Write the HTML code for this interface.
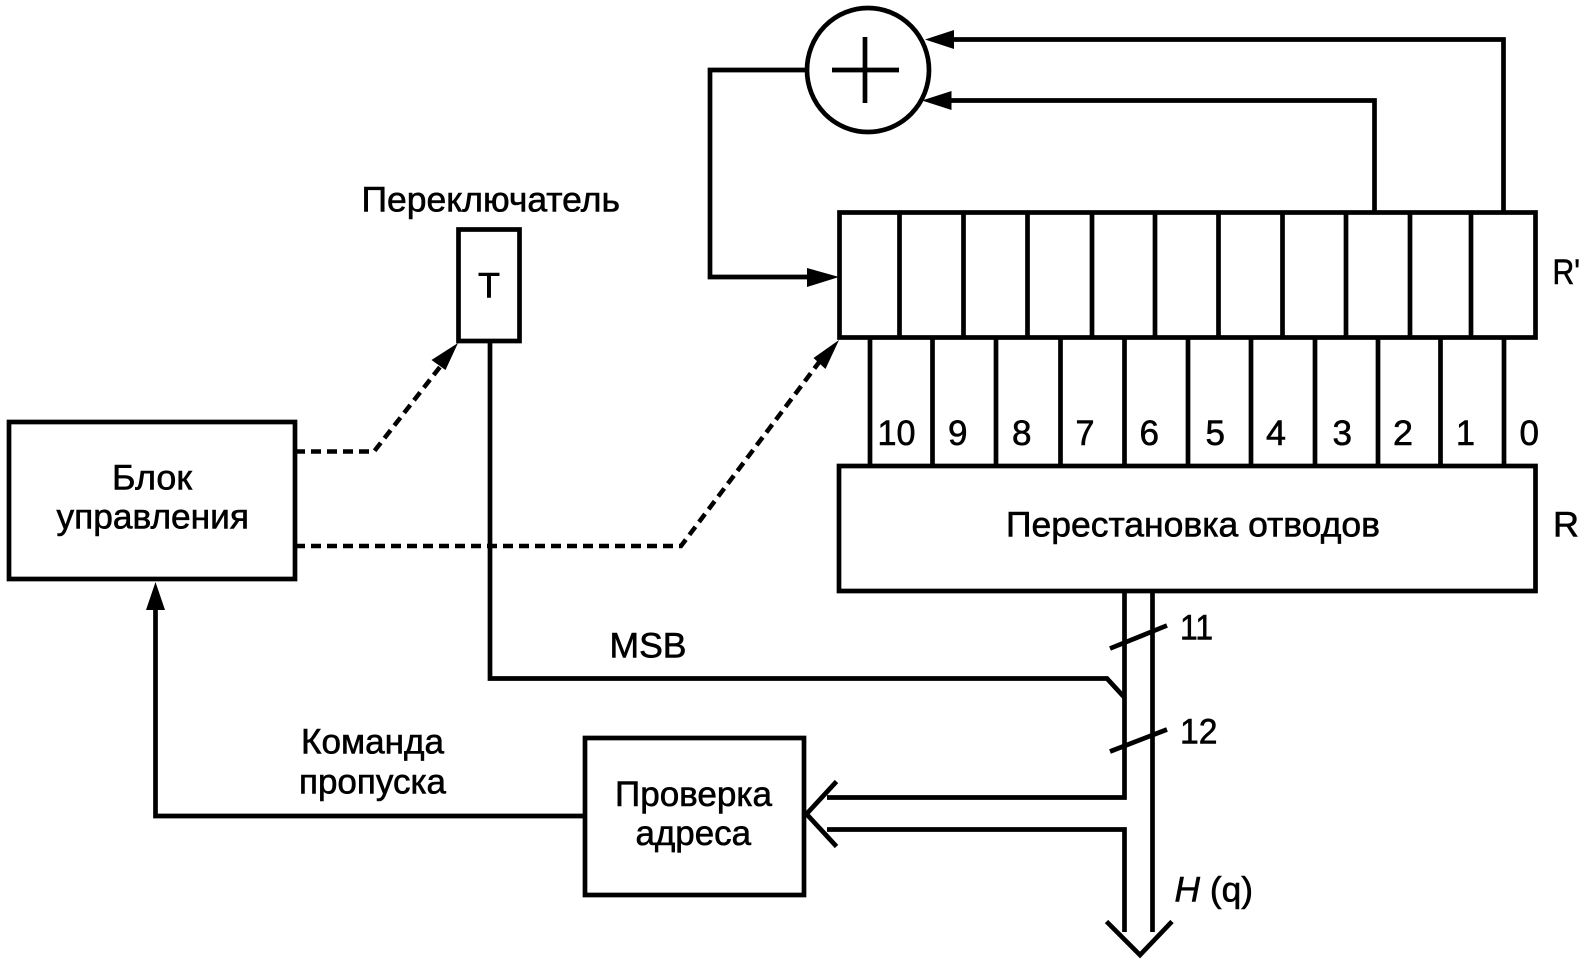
<!DOCTYPE html>
<html lang="ru">
<head>
<meta charset="utf-8">
<title>Диаграмма</title>
<style>
html,body{margin:0;padding:0;background:#fff;width:1590px;height:965px;overflow:hidden}
svg{display:block}
text{font-family:"Liberation Sans","Noto Sans CJK SC",sans-serif;font-size:35px;fill:#000;stroke:#000;stroke-width:.6px}
.l{fill:none;stroke:#000;stroke-width:4.7}
.d{fill:none;stroke:#000;stroke-width:4.5;stroke-dasharray:10 6}
.a{fill:#000;stroke:none}
</style>
</head>
<body>
<svg xmlns="http://www.w3.org/2000/svg" width="1590" height="965" viewBox="0 0 1590 965">
<rect width="1590" height="965" fill="#fff"/>

<!-- adder -->
<ellipse class="l" cx="868" cy="70" rx="61" ry="62"/>
<path class="l" d="M832 70H899M865 37V103"/>
<path class="l" d="M806 70H710V277H810"/>
<polygon class="a" points="839,277 807,268 807,287"/>
<path class="l" d="M1503.500 212V39.500H950"/>
<polygon class="a" points="925,39.500 954,30 954,49"/>
<path class="l" d="M1374.500 212V100.500H948"/>
<polygon class="a" points="922,100.500 951.500,91 951.500,110"/>

<!-- R' register -->
<rect class="l" x="839.500" y="212.500" width="696" height="125"/>
<path class="l" d="M899.500 212V337M963.500 212V337M1027.500 212V337M1092 212V337M1155 212V337M1218.500 212V337M1282.500 212V337M1346 212V337M1410 212V337M1471 212V337"/>

<!-- tap lines -->
<path class="l" d="M870 337V464M932.500 337V464M996 337V464M1060.500 337V464M1124.500 337V464M1188 337V464M1251 337V464M1315 337V464M1378 337V464M1440.500 337V464M1504 337V464"/>

<!-- R box -->
<rect class="l" x="839" y="466" width="696.500" height="125"/>

<text x="877.500" y="445" textLength="38" lengthAdjust="spacingAndGlyphs">10</text>
<text x="948" y="445" textLength="19.500" lengthAdjust="spacingAndGlyphs">9</text>
<text x="1012" y="445" textLength="19.500" lengthAdjust="spacingAndGlyphs">8</text>
<text x="1075.500" y="445" textLength="19" lengthAdjust="spacingAndGlyphs">7</text>
<text x="1139.500" y="445" textLength="19.500" lengthAdjust="spacingAndGlyphs">6</text>
<text x="1205.500" y="445" textLength="19.500" lengthAdjust="spacingAndGlyphs">5</text>
<text x="1266" y="445" textLength="20" lengthAdjust="spacingAndGlyphs">4</text>
<text x="1332.500" y="445" textLength="19.500" lengthAdjust="spacingAndGlyphs">3</text>
<text x="1393" y="445" textLength="20" lengthAdjust="spacingAndGlyphs">2</text>
<text x="1456" y="445" textLength="19" lengthAdjust="spacingAndGlyphs">1</text>
<text x="1519.500" y="445" textLength="19.500" lengthAdjust="spacingAndGlyphs">0</text>

<text x="1006" y="536.500" textLength="374" lengthAdjust="spacingAndGlyphs">Перестановка отводов</text>
<text x="1553" y="536.500" textLength="26" lengthAdjust="spacingAndGlyphs">R</text>
<text x="1552.500" y="284" textLength="27.500" lengthAdjust="spacingAndGlyphs">R'</text>

<!-- T box -->
<text x="361.500" y="211.500" textLength="258.500" lengthAdjust="spacingAndGlyphs">Переключатель</text>
<rect class="l" x="458.500" y="229.500" width="61" height="111.500"/>
<text x="478" y="297.500" textLength="22" lengthAdjust="spacingAndGlyphs">T</text>
<path class="l" d="M490 341.500V678.500H1107L1124 697"/>

<!-- control block -->
<rect class="l" x="9" y="422" width="286" height="157"/>
<text x="112" y="489.500" textLength="80" lengthAdjust="spacingAndGlyphs">Блок</text>
<text x="56.500" y="528.500" textLength="192.500" lengthAdjust="spacingAndGlyphs">управления</text>

<!-- dashed -->
<path class="d" d="M295 451.500H374L447 358"/>
<polygon class="a" points="458,343 431.500,360 445.500,370"/>
<path class="d" d="M295 546H681L820 361"/>
<polygon class="a" points="839,340 813.500,358 825.500,369"/>

<!-- bus -->
<path class="l" d="M1124.500 591V797.500H827"/>
<path class="l" d="M827 829.500H1124.500V932"/>
<path class="l" d="M1152.500 591V932"/>
<path class="l" d="M1106.500 921.500L1140 955L1172 921.500"/>
<path class="l" d="M1110 648.500L1167 625.500M1110 751.500L1167 729.500"/>
<text x="1180" y="639.500" textLength="33" lengthAdjust="spacingAndGlyphs">11</text>
<text x="1180" y="743.500" textLength="37.500" lengthAdjust="spacingAndGlyphs">12</text>
<text x="609.500" y="657.500" textLength="77" lengthAdjust="spacingAndGlyphs">MSB</text>

<!-- address check -->
<rect class="l" x="585" y="738" width="219" height="157"/>
<text x="615" y="806" textLength="157" lengthAdjust="spacingAndGlyphs">Проверка</text>
<text x="635.500" y="845" textLength="115.500" lengthAdjust="spacingAndGlyphs">адреса</text>
<path class="l" d="M836.500 781.500L806.500 814L836.500 846.500"/>
<text x="1174.500" y="901.500" textLength="78.500" lengthAdjust="spacingAndGlyphs"><tspan font-style="italic">H</tspan> (q)</text>

<!-- skip command -->
<path class="l" d="M585 816H155.500V605"/>
<polygon class="a" points="155.500,582 146,610 165,610"/>
<text x="301" y="753.500" textLength="143" lengthAdjust="spacingAndGlyphs">Команда</text>
<text x="299" y="793.500" textLength="147" lengthAdjust="spacingAndGlyphs">пропуска</text>
</svg>
</body>
</html>
